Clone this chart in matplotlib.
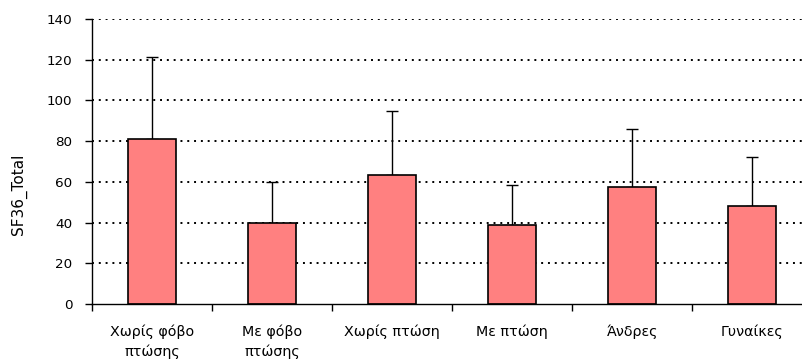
import matplotlib
matplotlib.use("Agg")
import matplotlib.pyplot as plt
import numpy as np

categories = ["Χωρίς φόβο\nπτώσης", "Με φόβο\nπτώσης", "Χωρίς πτώση", "Με πτώση", "Άνδρες", "Γυναίκες"]
means = [81, 40, 63.3, 38.7, 57.7, 47.9]
sds = [40.2, 19.8, 31.7, 19.7, 28.1, 24.4]
y_ticks = [0, 20, 40, 60, 80, 100, 120, 140]

plt.rcParams['font.family'] = ['DejaVu Sans']

W, H = 802, 363
fig = plt.figure(figsize=(W / 100, H / 100), dpi=100)
left, bottom, top = 92, 304, 19
step = 120.06
ax = fig.add_axes([left / W, (H - bottom) / H, 6 * step / W, (bottom - top) / H])

x = np.arange(len(categories))
ax.bar(x, means, width=0.4, color="#FF8080", edgecolor="black", linewidth=1.2, zorder=3)
ax.errorbar(x, means, yerr=[np.zeros(len(sds)), sds], fmt="none", ecolor="black",
            elinewidth=1.0, capsize=4.2, capthick=1.0, zorder=2)

ax.set_xlim(-0.5, len(categories) - 0.5)
ax.set_ylim(0, 140)
ax.set_yticks(y_ticks)
ax.set_yticklabels([str(v) for v in y_ticks], fontsize=9.7)
ax.set_xticks(x)
ax.set_xticklabels(categories, fontsize=10.3, linespacing=1.45)
ax.set_xticks(np.arange(len(categories) + 1) - 0.5, minor=True)
ax.tick_params(axis="x", which="major", length=0, pad=15)
ax.tick_params(axis="x", which="minor", length=5, width=1, direction="out")
ax.tick_params(axis="y", length=5, width=1, direction="out", pad=9)

for v in y_ticks[1:]:
    ax.axhline(v, color="black", linewidth=1.4, linestyle=(0, (1, 2.5)), zorder=1)

for s in ["top", "right"]:
    ax.spines[s].set_visible(False)
for s in ["left", "bottom"]:
    ax.spines[s].set_linewidth(1.0)
    ax.spines[s].set_zorder(4)

ax.set_ylabel("SF36_Total", fontsize=11)
ax.yaxis.set_label_coords((27 - left) / (6 * step), (bottom - 194) / (bottom - top))

fig.savefig("out.png", dpi=100)
